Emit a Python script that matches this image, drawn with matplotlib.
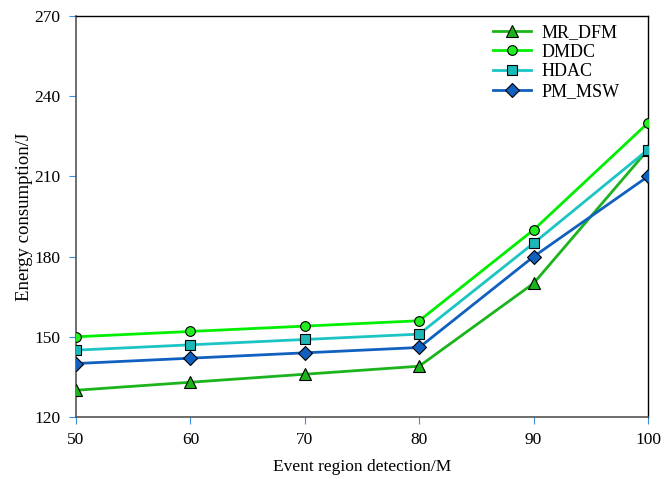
import matplotlib
matplotlib.use("Agg")
import matplotlib.pyplot as plt

x = [50, 60, 70, 80, 90, 100]
mr_dfm = [130, 133, 136, 139, 170, 220]
dmdc = [150, 152, 154, 156, 190, 230]
hdac = [145, 147, 149, 151, 185, 220]
pm_msw = [140, 142, 144, 146, 180, 210]
yticks = [120, 150, 180, 210, 240, 270]

plt.rcParams['font.family'] = ['Liberation Serif', 'DejaVu Serif']

fig = plt.figure(figsize=(6.67, 4.79), dpi=100)
ax = fig.add_axes([76/667, 1-417/479, (648-76)/667, (417-16)/479])

ax.plot(x, mr_dfm, color='#1cb41c', lw=2, marker='^', ms=8, mfc='#1cb41c', mec='black', mew=0.8, label='MR_DFM', zorder=3)
ax.plot(x, dmdc, color='#00ee00', lw=2, marker='o', ms=7, mfc='#22ee22', mec='black', mew=0.8, label='DMDC', zorder=3)
ax.plot(x, hdac, color='#1cc4c4', lw=2, marker='s', ms=7, mfc='#1cb8b8', mec='black', mew=0.8, label='HDAC', zorder=3)
ax.plot(x, pm_msw, color='#1060c0', lw=2, marker='D', ms=7, mfc='#1060c0', mec='black', mew=0.8, label='PM_MSW', zorder=4)

ax.set_xlim(50, 100)
ax.set_ylim(120, 270)
ax.set_xticks(x)
ax.set_yticks(yticks)
ax.tick_params(axis='both', direction='out', length=5, color='#3a8fe0', labelsize=12.5, pad=6)
for s in ['left', 'bottom']:
    ax.spines[s].set_color('#555555')
    ax.spines[s].set_linewidth(1.2)
for s in ['top', 'right']:
    ax.spines[s].set_color('black')
    ax.spines[s].set_linewidth(1.0)

ax.set_xlabel('Event region detection/M', fontsize=12.5, labelpad=8)
ax.set_ylabel('Energy consumption/J', fontsize=13.5, labelpad=1)

leg = ax.legend(loc='upper right', frameon=False, fontsize=13, handlelength=2.1,
                borderaxespad=0.3, labelspacing=0.15, handletextpad=0.6,
                bbox_to_anchor=(0.973, 1.012))

fig.savefig('out.png', dpi=100)
